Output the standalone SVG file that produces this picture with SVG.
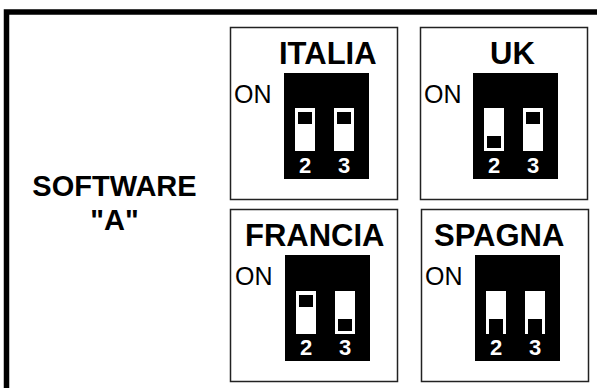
<svg xmlns="http://www.w3.org/2000/svg" width="597" height="388" viewBox="0 0 597 388">
<style>
.frame{fill:none;stroke:#000;stroke-width:5.5}
.box{fill:#fff;stroke:#222;stroke-width:1.5}
.title{font-family:"Liberation Sans",Arial,sans-serif;font-weight:bold;font-size:31px;fill:#000}
.on{font-family:"Liberation Sans",Arial,sans-serif;font-size:25px;fill:#000}
.num{font-family:"Liberation Sans",Arial,sans-serif;font-weight:bold;font-size:22px;fill:#fff;text-anchor:middle}
.sw{font-family:"Liberation Sans",Arial,sans-serif;font-weight:bold;font-size:29px;fill:#000;text-anchor:middle}
.block{fill:#000}
.slot{fill:#fff}
.knob{fill:#000}
</style>
<rect x="0" y="0" width="597" height="388" fill="#fff"/>
<rect class="frame" x="6.5" y="12" width="640" height="440"/>
<g id="label">
<text class="sw" x="114.5" y="196">SOFTWARE</text>
<text class="sw" x="114.5" y="230">"A"</text>
</g>
<g id="italia">
<rect class="box" x="230.5" y="27.5" width="167" height="172"/>
<text class="title" x="279" y="64">ITALIA</text>
<text class="on" x="234" y="103">ON</text>
<rect class="block" x="284" y="73" width="85" height="106"/>
<rect class="slot" x="295" y="108" width="20" height="43"/>
<rect class="knob" x="298" y="112" width="14" height="12"/>
<rect class="slot" x="334" y="108" width="20" height="43"/>
<rect class="knob" x="337" y="112" width="14" height="12"/>
<text class="num" x="305" y="173">2</text>
<text class="num" x="344" y="173">3</text>
</g>
<g id="uk">
<rect class="box" x="420.5" y="27.5" width="167" height="172"/>
<text class="title" x="490" y="64">UK</text>
<text class="on" x="424" y="103">ON</text>
<rect class="block" x="473" y="73" width="85" height="106"/>
<rect class="slot" x="484" y="108" width="20" height="43"/>
<rect class="knob" x="487" y="136" width="14" height="12"/>
<rect class="slot" x="523" y="108" width="20" height="43"/>
<rect class="knob" x="526" y="112" width="14" height="12"/>
<text class="num" x="494" y="173">2</text>
<text class="num" x="533" y="173">3</text>
</g>
<g id="francia">
<rect class="box" x="230.5" y="209.5" width="167" height="172"/>
<text class="title" x="245" y="246">FRANCIA</text>
<text class="on" x="235" y="285">ON</text>
<rect class="block" x="285" y="255" width="85" height="106"/>
<rect class="slot" x="296" y="291" width="20" height="43"/>
<rect class="knob" x="299" y="295" width="14" height="12"/>
<rect class="slot" x="335" y="291" width="20" height="43"/>
<rect class="knob" x="338" y="319" width="14" height="12"/>
<text class="num" x="306" y="355">2</text>
<text class="num" x="345" y="355">3</text>
</g>
<g id="spagna">
<rect class="box" x="421.5" y="209.5" width="167" height="172"/>
<text class="title" x="434" y="246">SPAGNA</text>
<text class="on" x="425" y="285">ON</text>
<rect class="block" x="475" y="255" width="85" height="106"/>
<rect class="slot" x="486" y="291" width="20" height="43"/>
<rect class="knob" x="489" y="319" width="14" height="15"/>
<rect class="slot" x="525" y="291" width="20" height="43"/>
<rect class="knob" x="528" y="319" width="14" height="15"/>
<text class="num" x="496" y="355">2</text>
<text class="num" x="535" y="355">3</text>
</g>
<g id="connectors"/>
</svg>
